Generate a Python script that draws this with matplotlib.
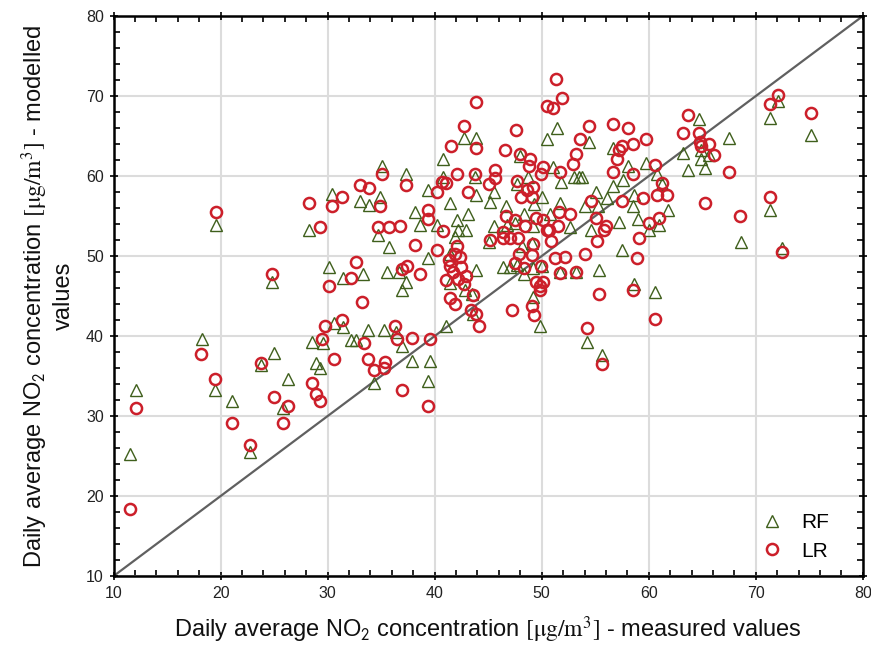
import matplotlib
matplotlib.use("Agg")
import matplotlib.pyplot as plt
from matplotlib.ticker import MultipleLocator

plt.rcParams['font.family'] = ['Liberation Sans', 'DejaVu Sans']
plt.rcParams['mathtext.fontset'] = 'stix'

# ---- data ----
rf_x = [11.5, 12.1, 19.6, 18.25, 19.5, 21.1, 22.7, 24.8, 23.8, 25.0, 26.3, 25.85, 28.3, 28.5, 28.9, 29.3, 29.6,
        30.4, 30.15, 30.6,
        35.1, 37.3, 40.8, 33.0, 33.9, 34.9, 39.4, 40.8, 38.2, 38.6, 40.2, 34.7, 35.7, 39.4, 31.4, 33.3, 35.5, 36.7,
        37.3, 36.9, 31.4, 33.8, 35.3, 36.4, 32.2, 32.6, 36.9, 37.9, 39.6, 39.4, 34.3, 41.1,
        42.7, 43.9, 43.8, 48.0, 50.5, 48.7, 47.7, 45.5, 43.9, 41.4, 45.2, 46.7, 50.0, 43.1, 42.05, 42.2, 42.9, 41.9,
        45.5, 47.5, 48.3, 49.2, 49.1, 48.2, 45.1, 41.4, 43.9, 46.4, 47.0, 47.7, 49.2, 50.0, 41.4, 42.8, 43.45, 49.2,
        43.6, 49.8, 49.3, 50.8, 46.8, 48.3,
        51.4, 54.4, 56.7, 59.75, 58.1, 60.75, 51.1, 51.8, 53.0, 53.5, 53.8, 55.1, 56.1, 56.7, 57.6, 58.6, 58.5, 59.0,
        61.0, 60.0, 57.2, 54.6, 54.0, 55.3, 52.6, 51.7, 57.5, 55.4, 58.6, 60.6, 51.7, 53.2, 54.2, 55.6,
        72.1, 71.3, 75.2, 64.7, 67.5, 63.2, 64.9, 64.9, 65.6, 63.65, 65.3, 61.2, 61.8, 71.3, 68.6, 72.5]
rf_y = [25.3, 33.3, 53.9, 39.6, 33.3, 31.9, 25.5, 46.7, 36.4, 37.9, 34.6, 31.0, 53.3, 39.3, 36.6, 36.0, 39.1,
        57.8, 48.6, 41.6,
        61.2, 60.25, 62.1, 56.9, 56.4, 57.4, 58.25, 59.9, 55.5, 53.9, 53.9, 52.6, 51.1, 49.7, 47.2, 47.75, 48.0, 48.0,
        46.7, 45.75, 41.1, 40.8, 40.8, 40.5, 39.5, 39.5, 38.7, 36.9, 36.9, 34.4, 34.1, 41.2,
        64.8, 64.8, 59.9, 62.5, 64.6, 59.9, 59.0, 58.0, 57.6, 56.6, 56.8, 56.25, 57.4, 55.25, 54.5, 53.25, 53.25, 52.4,
        53.7, 54.1, 55.3, 53.7, 51.6, 51.2, 51.8, 50.3, 48.25, 48.6, 48.6, 48.9, 48.5, 48.7, 46.6, 45.75, 45.3, 44.9,
        42.8, 41.2, 56.5, 55.2, 53.9, 47.8,
        66.0, 64.3, 63.5, 61.6, 61.25, 60.3, 61.1, 59.2, 59.9, 59.9, 59.9, 58.0, 57.2, 58.75, 59.5, 57.6, 56.2, 54.6,
        53.9, 53.25, 54.3, 53.25, 56.2, 56.2, 53.6, 56.6, 50.75, 48.3, 46.5, 45.5, 48.0, 48.0, 39.2, 37.6,
        69.4, 67.3, 65.1, 67.1, 64.8, 62.9, 63.2, 62.1, 62.6, 60.75, 61.0, 59.0, 55.75, 55.75, 51.7, 51.0]

lr_x = [11.5, 12.1, 19.6, 18.2, 19.5, 21.1, 22.7, 24.8, 23.8, 25.0, 26.3, 25.8, 28.3, 29.3, 30.4, 30.15, 29.75,
        29.5, 28.5, 28.9, 29.3, 30.6, 31.3,
        35.1, 37.3, 33.0, 33.9, 31.3, 34.9, 34.7, 35.7, 36.8, 38.2, 40.25, 39.4, 39.4, 40.25, 40.65, 40.8, 32.6,
        32.15, 36.9, 37.4, 38.6, 33.2, 33.4, 36.3, 36.5, 37.9, 39.6, 33.8, 34.3, 35.4, 35.3, 36.9, 39.4,
        43.9, 42.7, 47.6, 41.5, 43.9, 46.6, 48.0, 48.9, 48.8, 50.1, 49.9, 50.5, 45.6, 42.05, 43.8, 45.6, 45.1, 41.1,
        43.1, 47.7, 48.6, 49.2, 48.1, 49.1, 46.7, 47.5, 48.4, 49.5, 50.15, 46.4, 46.4, 47.0, 47.8, 45.2, 49.2, 49.1,
        47.9, 47.5, 48.3, 42.05, 41.9, 42.4, 41.3, 41.4, 42.5, 41.75, 42.9, 41.05, 42.2, 42.7, 43.55, 41.4, 41.9,
        43.4, 43.9, 44.1, 47.2, 49.1, 49.3, 49.5, 49.8, 50.15, 50.5,
        51.3, 51.1, 51.9, 54.4, 53.6, 56.7, 58.1, 59.75, 58.5, 57.5, 57.25, 57.05, 53.2, 52.95, 51.7, 56.7, 58.5,
        60.6, 61.2, 60.75, 61.7, 59.5, 57.5, 54.6, 55.1, 56.0, 55.8, 55.2, 52.6, 51.65, 51.55, 50.7, 50.9, 61.0,
        60.0, 59.1, 58.9, 54.0, 52.2, 51.2, 51.7, 53.2, 49.9, 55.4, 58.5, 54.2, 60.6, 55.6, 49.8,
        72.1, 71.3, 75.2, 63.65, 63.2, 64.7, 64.8, 65.6, 64.9, 66.1, 67.5, 65.3, 71.3, 68.5, 72.5]
lr_y = [18.4, 31.0, 55.5, 37.7, 34.6, 29.1, 26.4, 47.8, 36.6, 32.4, 31.3, 29.1, 56.6, 53.6, 56.3, 46.2, 41.25,
        39.6, 34.1, 32.7, 31.9, 37.1, 42.0,
        60.2, 58.9, 58.9, 58.5, 57.4, 56.3, 53.6, 53.6, 53.8, 51.4, 50.8, 55.75, 54.6, 58.0, 59.3, 53.1, 49.2,
        47.3, 48.4, 48.7, 47.8, 44.2, 39.1, 41.3, 39.6, 39.8, 39.6, 37.1, 35.75, 36.8, 36.0, 33.25, 31.3,
        69.25, 66.25, 65.7, 63.75, 63.5, 63.25, 62.75, 62.1, 61.25, 61.1, 60.25, 68.8, 60.8, 60.2, 60.2, 59.7, 59.0, 59.1,
        57.95, 59.4, 58.25, 58.6, 57.4, 57.4, 55.0, 54.5, 53.7, 54.7, 54.5, 53.0, 52.2, 52.2, 52.2, 52.0, 51.5, 50.1,
        50.25, 49.1, 48.5, 51.2, 50.3, 49.9, 49.5, 48.7, 48.6, 48.0, 47.5, 47.0, 47.1, 46.5, 45.1, 44.8, 44.0,
        43.3, 42.8, 41.2, 43.3, 43.75, 42.6, 46.8, 46.2, 46.8, 53.25,
        72.2, 68.5, 69.8, 66.25, 64.6, 66.5, 66.0, 64.6, 64.0, 63.75, 63.25, 62.1, 62.7, 61.5, 60.5, 60.5, 60.2,
        61.4, 59.1, 57.6, 57.6, 57.2, 56.9, 56.9, 54.7, 53.7, 53.2, 51.9, 55.25, 55.5, 53.7, 53.3, 51.9, 54.7,
        54.1, 52.2, 49.7, 50.3, 49.9, 49.7, 47.9, 48.0, 48.7, 45.3, 45.75, 41.0, 42.1, 36.5, 45.8,
        70.1, 69.0, 67.9, 67.6, 65.4, 65.4, 64.3, 64.0, 63.7, 62.6, 60.5, 56.6, 57.4, 55.0, 50.5]

line_ends = [10, 80]
series_names = ["RF", "LR"]

fig = plt.figure(figsize=(8.71, 6.45), dpi=100)
ax = fig.add_axes([0.1305, 0.107, 0.86, 0.868])

ax.plot(line_ends, line_ends, color='#606060', lw=1.6, zorder=2)
ax.plot(rf_x, rf_y, linestyle='none', marker='^', ms=8.5, mfc='none', mec='#3f5f1c', mew=1.0,
        label=series_names[0], zorder=3)
ax.plot(lr_x, lr_y, linestyle='none', marker='o', ms=8.0, mfc='none', mec='#cc1f2a', mew=1.8,
        label=series_names[1], zorder=4)

ax.set_xlim(10, 80)
ax.set_ylim(10, 80)
ax.xaxis.set_major_locator(MultipleLocator(10))
ax.yaxis.set_major_locator(MultipleLocator(10))
ax.xaxis.set_minor_locator(MultipleLocator(2))
ax.yaxis.set_minor_locator(MultipleLocator(2))
ax.grid(True, which='major', color='#dcdcdc', lw=1.5, zorder=0)
ax.set_axisbelow(True)
for s in ax.spines.values():
    s.set_linewidth(1.8)
    s.set_color('black')
ax.tick_params(which='major', direction='inout', length=6, width=1.2, top=True, right=True,
               labelsize=11.5, labelcolor='#222222', pad=4)
ax.tick_params(which='minor', direction='in', length=4, width=1.2, top=True, right=True)

ax.set_xlabel(r"Daily average NO$_\mathsf{2}$ concentration $[\mathrm{\mu g/m^3}]$ - measured values",
              fontsize=17, labelpad=10, color='#111111')
ax.set_ylabel("Daily average NO$_\\mathsf{2}$ concentration $[\\mathrm{\\mu g/m^3}]$ - modelled\nvalues",
              fontsize=17, labelpad=8, color='#111111', linespacing=1.15)

leg = ax.legend(loc='lower right', bbox_to_anchor=(0.972, 0.005), frameon=False, fontsize=15,
                handletextpad=0.9, labelspacing=0.45, borderaxespad=0.2, handlelength=1.0)

fig.savefig("out.png", dpi=100)
